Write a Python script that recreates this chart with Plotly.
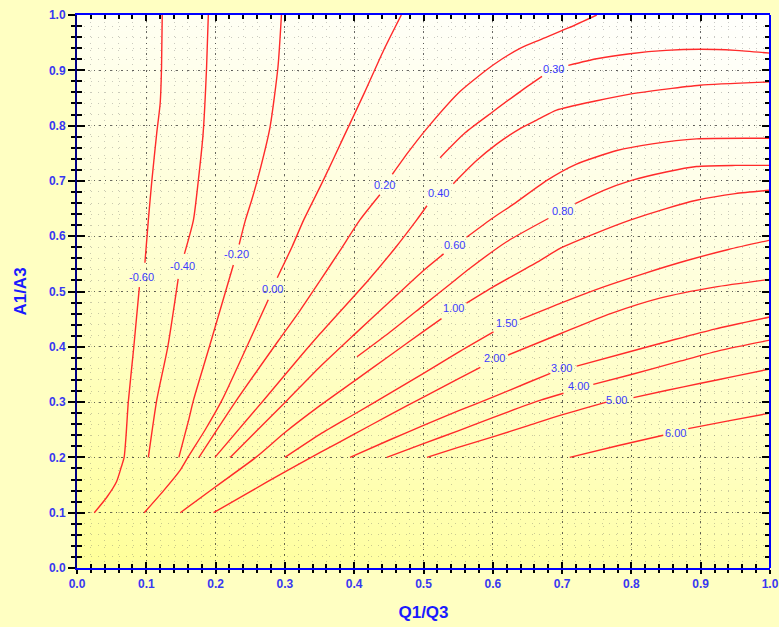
import zlib, struct, base64
import plotly.graph_objects as go

# ---------------- data ----------------
levels = ["-0.60", "-0.40", "-0.20", "0.00", "0.20", "0.30", "0.40", "0.60",
          "0.80", "1.00", "1.50", "2.00", "3.00", "4.00", "5.00", "6.00"]

m060_x = [0.025, 0.043, 0.057, 0.064, 0.068, 0.071, 0.074, 0.082, 0.090, None, 0.098, 0.103, 0.108, 0.115, 0.120, 0.122, 0.123]
m060_y = [0.100, 0.128, 0.156, 0.183, 0.200, 0.243, 0.300, 0.400, 0.508, None, 0.552, 0.630, 0.700, 0.786, 0.840, 0.906, 1.000]

m040_x = [0.103, 0.115, 0.131, 0.146, None, 0.155, 0.168, 0.175, 0.182, 0.187, 0.1895]
m040_y = [0.200, 0.303, 0.400, 0.523, None, 0.568, 0.629, 0.700, 0.786, 0.906, 1.000]

m020_x = [0.147, 0.161, 0.168, 0.191, 0.2256, None, 0.234, 0.243, 0.252, 0.261, 0.2785, 0.290, 0.295]
m020_y = [0.200, 0.267, 0.303, 0.400, 0.548, None, 0.585, 0.629, 0.665, 0.705, 0.797, 0.906, 1.000]

z000_x = [0.097, 0.125, 0.149, 0.160, 0.185, 0.209, 0.245, 0.276, None, 0.289, 0.310, 0.327, 0.355, 0.385, 0.415, 0.442, 0.468]
z000_y = [0.100, 0.140, 0.177, 0.200, 0.250, 0.303, 0.400, 0.485, None, 0.525, 0.580, 0.629, 0.700, 0.780, 0.860, 0.935, 1.000]

p020_x = [0.176, 0.230, 0.290, 0.322, 0.351, 0.380, 0.408, 0.437, None, 0.455, 0.478, 0.505, 0.553, 0.601, 0.640, 0.668, 0.710, 0.750]
p020_y = [0.200, 0.303, 0.410, 0.466, 0.520, 0.575, 0.629, 0.675, None, 0.712, 0.752, 0.795, 0.862, 0.910, 0.940, 0.955, 0.977, 1.000]

p030_x = [0.524, 0.560, 0.600, 0.640, 0.671, None, 0.709, 0.750, 0.798, 0.850, 0.899, 0.950, 1.000]
p030_y = [0.742, 0.787, 0.825, 0.862, 0.889, None, 0.909, 0.921, 0.930, 0.936, 0.938, 0.936, 0.931]

p040_x = [0.199, 0.269, 0.322, 0.351, 0.420, 0.460, 0.490, 0.505, None, 0.543, 0.575, 0.606, 0.640, 0.668, 0.692, 0.750, 0.798, 0.850, 0.899, 1.000]
p040_y = [0.200, 0.303, 0.382, 0.424, 0.520, 0.580, 0.629, 0.655, None, 0.695, 0.735, 0.767, 0.795, 0.813, 0.828, 0.845, 0.857, 0.866, 0.873, 0.879]

p060_x = [0.221, 0.303, 0.350, 0.400, 0.450, 0.500, 0.529, None, 0.562, 0.600, 0.630, 0.678, 0.720, 0.779, 0.830, 0.894, 1.000]
p060_y = [0.200, 0.303, 0.363, 0.422, 0.480, 0.538, 0.568, None, 0.598, 0.633, 0.658, 0.701, 0.730, 0.755, 0.767, 0.776, 0.777]

p080_x = [0.404, 0.450, 0.500, 0.540, 0.567, 0.620, 0.680, None, 0.719, 0.760, 0.798, 0.850, 0.894, 0.950, 1.000]
p080_y = [0.382, 0.425, 0.475, 0.515, 0.542, 0.590, 0.632, None, 0.659, 0.683, 0.700, 0.716, 0.726, 0.728, 0.728]

p100_x = [0.149, 0.200, 0.258, 0.300, 0.351, 0.400, 0.450, 0.500, 0.526, None, 0.562, 0.600, 0.668, 0.697, 0.750, 0.798, 0.850, 0.894, 0.950, 1.000]
p100_y = [0.100, 0.147, 0.200, 0.245, 0.294, 0.338, 0.383, 0.428, 0.451, None, 0.479, 0.508, 0.556, 0.578, 0.606, 0.629, 0.650, 0.665, 0.677, 0.683]

p150_x = [0.300, 0.351, 0.400, 0.450, 0.500, 0.550, 0.601, None, 0.639, 0.700, 0.759, 0.817, 0.880, 0.940, 1.000]
p150_y = [0.200, 0.242, 0.278, 0.315, 0.352, 0.390, 0.427, None, 0.449, 0.480, 0.508, 0.532, 0.556, 0.576, 0.593]

p200_x = [0.197, 0.250, 0.300, 0.351, 0.400, 0.450, 0.500, 0.550, 0.582, None, 0.622, 0.700, 0.770, 0.841, 0.920, 1.000]
p200_y = [0.100, 0.138, 0.174, 0.209, 0.242, 0.276, 0.309, 0.342, 0.363, None, 0.385, 0.425, 0.460, 0.488, 0.508, 0.522]

p300_x = [0.394, 0.450, 0.500, 0.550, 0.600, 0.650, 0.683, None, 0.721, 0.800, 0.856, 0.920, 1.000]
p300_y = [0.200, 0.231, 0.258, 0.284, 0.309, 0.335, 0.352, None, 0.365, 0.392, 0.411, 0.432, 0.454]

p400_x = [0.447, 0.500, 0.550, 0.600, 0.668, 0.702, None, 0.745, 0.800, 0.870, 0.930, 1.000]
p400_y = [0.200, 0.225, 0.248, 0.272, 0.303, 0.316, None, 0.332, 0.350, 0.374, 0.394, 0.412]

p500_x = [0.505, 0.550, 0.600, 0.650, 0.697, 0.764, None, 0.803, 0.850, 0.900, 0.950, 1.000]
p500_y = [0.200, 0.218, 0.237, 0.257, 0.276, 0.300, None, 0.308, 0.321, 0.334, 0.347, 0.360]

p600_x = [0.711, 0.780, 0.846, None, 0.882, 0.940, 1.000]
p600_y = [0.200, 0.221, 0.240, None, 0.252, 0.266, 0.280]

label_x = [0.0924, 0.1525, 0.2304, 0.282, 0.443, 0.687, 0.522, 0.545, 0.701, 0.544, 0.620, 0.602, 0.699, 0.723, 0.779, 0.863]
label_y = [0.527, 0.546, 0.567, 0.505, 0.692, 0.903, 0.679, 0.585, 0.646, 0.470, 0.443, 0.379, 0.361, 0.329, 0.303, 0.245]

tick_vals = [0.0, 0.1, 0.2, 0.3, 0.4, 0.5, 0.6, 0.7, 0.8, 0.9, 1.0]
tick_text = ["0.0", "0.1", "0.2", "0.3", "0.4", "0.5", "0.6", "0.7", "0.8", "0.9", "1.0"]

contours = [(m060_x, m060_y), (m040_x, m040_y), (m020_x, m020_y), (z000_x, z000_y),
            (p020_x, p020_y), (p030_x, p030_y), (p040_x, p040_y), (p060_x, p060_y),
            (p080_x, p080_y), (p100_x, p100_y), (p150_x, p150_y), (p200_x, p200_y),
            (p300_x, p300_y), (p400_x, p400_y), (p500_x, p500_y), (p600_x, p600_y)]

PAPER = "#ffffc2"

# ---------------- background gradient image ----------------
def gradient_png(w, h):
    rows = []
    for j in range(h):
        yv = 1 - j / (h - 1)
        row = bytearray([0])
        for i in range(w):
            xv = i / (w - 1)
            t = (1 - yv) * 0.82 + (1 - xv) * 0.18
            t = t ** 1.25
            b = int(round(252 - 98 * t))
            row += bytes([255, 255, b])
        rows.append(bytes(row))
    raw = b"".join(rows)

    def chunk(tag, data):
        c = struct.pack(">I", len(data)) + tag + data
        return c + struct.pack(">I", zlib.crc32(tag + data) & 0xFFFFFFFF)

    png = (b"\x89PNG\r\n\x1a\n"
           + chunk(b"IHDR", struct.pack(">IIBBBBB", w, h, 8, 2, 0, 0, 0))
           + chunk(b"IDAT", zlib.compress(raw, 9))
           + chunk(b"IEND", b""))
    return "data:image/png;base64," + base64.b64encode(png).decode()

FONT = "Liberation Sans, Arial, sans-serif"
LINE_RED = "#ff2a2a"
LABEL_BLUE = "#3b3bff"

fig = go.Figure()
for (cx, cy), lev in zip(contours, levels):
    fig.add_trace(go.Scatter(x=cx, y=cy, mode="lines", name=lev,
                             line=dict(color=LINE_RED, width=1.4, shape="spline", smoothing=0.6),
                             connectgaps=False, showlegend=False, hoverinfo="skip"))

# dummy trace to activate overlay axes (inside ticks)
fig.add_trace(go.Scatter(x=[None], y=[None], xaxis="x2", yaxis="y2",
                         showlegend=False, hoverinfo="skip"))

for lx, ly, lev in zip(label_x, label_y, levels):
    fig.add_annotation(x=lx, y=ly, text=lev, showarrow=False,
                       font=dict(family=FONT, size=11, color=LABEL_BLUE))

minor_common = dict(dtick=0.02, tick0=0, showgrid=True, gridcolor="rgba(90,90,90,0.32)",
                    griddash="1px,6px", gridwidth=1)

fig.update_layout(
    width=779, height=627,
    margin=dict(l=77, r=9, t=15, b=59),
    paper_bgcolor=PAPER,
    plot_bgcolor="rgba(0,0,0,0)",
    images=[dict(source=gradient_png(120, 120), xref="x", yref="y", x=0, y=1,
                 sizex=1, sizey=1, sizing="stretch", layer="below",
                 xanchor="left", yanchor="top")],
    xaxis=dict(range=[0, 1], tickvals=tick_vals, ticktext=tick_text, automargin=False,
               ticks="outside", ticklen=4, tickwidth=2, tickcolor="black",
               minor=dict(ticks="outside", ticklen=3, tickwidth=1.5, tickcolor="black", **minor_common),
               showgrid=True, gridcolor="rgba(40,40,40,0.7)", griddash="1.5px,4px", gridwidth=1.2,
               zeroline=False, showline=True, linecolor="#0000ff", linewidth=2, mirror=True,
               tickfont=dict(family=FONT, size=12, color="#3838f0", weight="bold"),
               title=dict(text="Q1/Q3", standoff=16,
                          font=dict(family=FONT, size=17, color="#1a1aff", weight="bold"))),
    yaxis=dict(range=[0, 1], tickvals=tick_vals, ticktext=tick_text, automargin=False,
               ticks="outside", ticklen=7, tickwidth=2, tickcolor="black",
               minor=dict(ticks="outside", ticklen=4, tickwidth=1.5, tickcolor="black", **minor_common),
               showgrid=True, gridcolor="rgba(40,40,40,0.7)", griddash="1.5px,4px", gridwidth=1.2,
               zeroline=False, showline=True, linecolor="#000080", linewidth=2, mirror=False,
               tickfont=dict(family=FONT, size=12, color="#3838f0", weight="bold"),
               title=dict(text="A1/A3", standoff=18,
                          font=dict(family=FONT, size=17, color="#1a1aff", weight="bold"))),
    xaxis2=dict(overlaying="x", anchor="y", side="bottom", range=[0, 1], automargin=False,
                tickvals=tick_vals, ticks="inside", ticklen=6, tickwidth=2, tickcolor="black",
                minor=dict(dtick=0.02, tick0=0, ticks="inside", ticklen=4, tickwidth=1.5,
                           tickcolor="black", showgrid=False),
                showticklabels=False, showgrid=False, zeroline=False, showline=False, mirror="ticks"),
    yaxis2=dict(overlaying="y", anchor="x", side="left", range=[0, 1], automargin=False,
                tickvals=tick_vals, ticks="inside", ticklen=8, tickwidth=2, tickcolor="black",
                minor=dict(dtick=0.02, tick0=0, ticks="inside", ticklen=5, tickwidth=1.5,
                           tickcolor="black", showgrid=False),
                showticklabels=False, showgrid=False, zeroline=False, showline=False, mirror="ticks"),
    shapes=[dict(type="line", xref="paper", yref="paper", x0=1, x1=1, y0=0, y1=1,
                 line=dict(color="#0000ff", width=2), layer="above")],
)

fig.write_html(
    "out.html",
    config={"displayModeBar": False},
    post_script="document.body.style.margin='0px';document.body.style.background='%s';" % PAPER,
)
